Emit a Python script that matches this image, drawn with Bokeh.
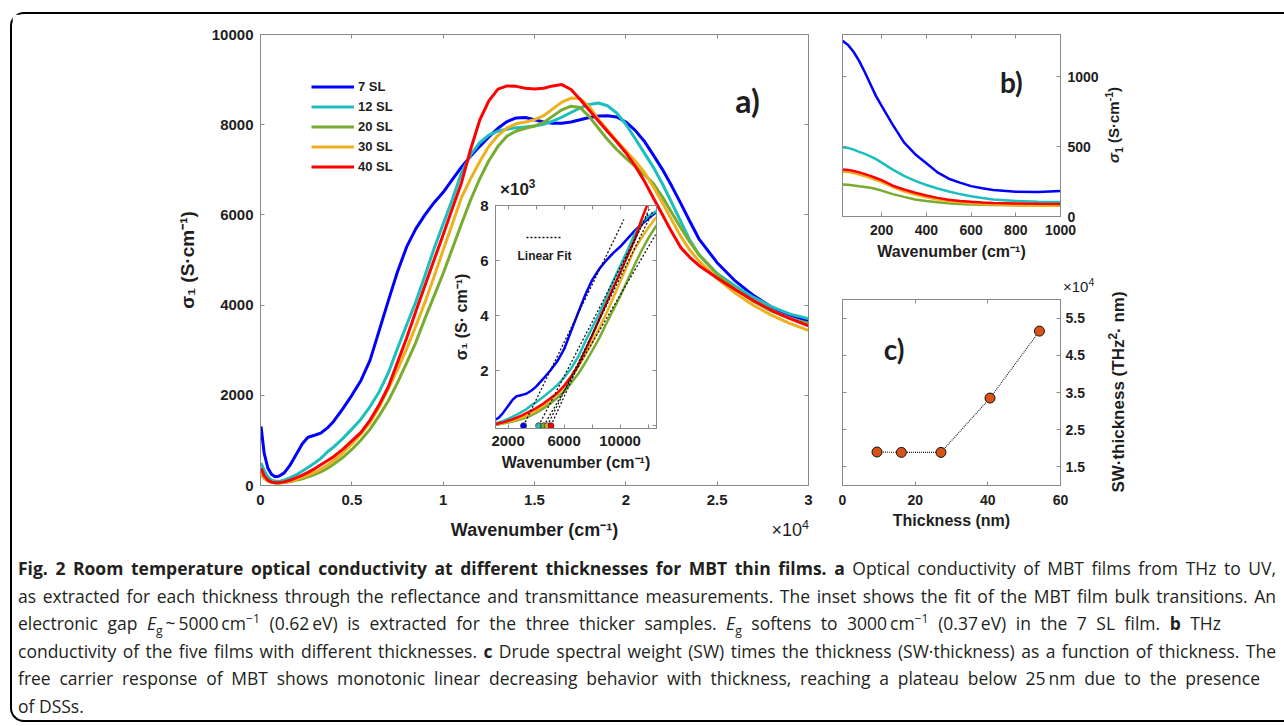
from bokeh.plotting import figure
from bokeh.models import (LinearAxis, FixedTicker, Legend, LegendItem, Label, Div,
                          GridBox, CustomJSTickFormatter, CustomLabelingPolicy, Range1d)
from bokeh.embed import file_html
from bokeh.resources import INLINE

# ---------------- data ----------------
series_names = ["7 SL", "12 SL", "20 SL", "30 SL", "40 SL"]
series_colors = ["#0000FF", "#1CBEBE", "#77AC30", "#EDB120", "#FF0000"]

# panel a: wavenumber (cm^-1) and sigma_1 (S/cm)
wavenumber = [30, 200, 400, 600, 800, 1000, 1300, 1600, 2000, 2300, 2600, 3000, 3300, 3700, 4000,
              4500, 5000, 5500, 6000, 6500, 7000, 7500, 8000, 8500, 9000, 9500, 10000, 10500, 11000,
              11500, 12000, 12500, 13000, 13500, 14000, 14500, 15000, 15500, 16000, 16500, 17000,
              17500, 18000, 18500, 19000, 19500, 20000, 20500, 21000, 21500, 22000, 22500, 23000,
              23500, 24000, 25000, 26000, 27000, 28000, 29000, 30000]
sigma_7sl = [1310, 720, 390, 250, 195, 205, 280, 440, 720, 930, 1070, 1120, 1160, 1290, 1420,
             1700, 2000, 2330, 2780, 3440, 4100, 4740, 5290, 5690, 6000, 6270, 6500, 6780, 7060,
             7300, 7520, 7730, 7920, 8070, 8150, 8160, 8110, 8060, 8030, 8030, 8060,
             8110, 8160, 8195, 8200, 8170, 8060, 7880, 7640, 7330, 7010, 6650, 6260,
             5860, 5470, 4940, 4530, 4210, 3950, 3780, 3640]
sigma_12sl = [500, 330, 190, 120, 95, 92, 120, 170, 250, 320, 400, 510, 600, 760, 850,
              1040, 1250, 1470, 1750, 2080, 2500, 3040, 3560, 4070, 4650, 5250, 5800, 6340, 6930,
              7330, 7600, 7770, 7860, 7900, 7930, 7950, 7970, 8010, 8080, 8170, 8270,
              8370, 8450, 8480, 8420, 8260, 8010, 7700, 7380, 7060, 6690, 6280, 5860,
              5440, 5120, 4700, 4420, 4170, 3960, 3800, 3700]
sigma_20sl = [250, 160, 100, 70, 58, 55, 65, 85, 120, 150, 190, 250, 300, 390, 470,
              620, 800, 1010, 1250, 1550, 1880, 2280, 2720, 3170, 3700, 4200, 4700, 5250, 5800,
              6330, 6800, 7200, 7520, 7750, 7860, 7920, 7970, 8050, 8190, 8330, 8410,
              8380, 8180, 7920, 7670, 7450, 7260, 7080, 6900, 6700, 6400, 6060, 5720,
              5400, 5120, 4680, 4350, 4080, 3860, 3700, 3600]
sigma_30sl = [300, 180, 110, 72, 60, 58, 70, 95, 140, 180, 230, 300, 360, 460, 550,
              720, 920, 1140, 1400, 1740, 2150, 2570, 3030, 3530, 4060, 4630, 5220, 5800, 6380,
              6800, 7180, 7520, 7760, 7930, 8020, 8060, 8110, 8200, 8350, 8500, 8590,
              8580, 8400, 8120, 7880, 7640, 7420, 7200, 6950, 6630, 6270, 5900, 5530,
              5220, 4980, 4590, 4260, 3990, 3770, 3590, 3440]
sigma_40sl = [380, 220, 120, 75, 60, 60, 80, 115, 180, 230, 290, 380, 460, 560, 640,
              800, 990, 1180, 1450, 1790, 2190, 2730, 3270, 3860, 4430, 5000, 5560, 6140, 6710,
              7450, 8100, 8530, 8790, 8860, 8850, 8810, 8790, 8810, 8860, 8890, 8780,
              8560, 8320, 8080, 7850, 7620, 7380, 7090, 6760, 6380, 6010, 5630, 5280,
              5060, 4880, 4600, 4340, 4100, 3880, 3700, 3540]
main_series = [sigma_7sl, sigma_12sl, sigma_20sl, sigma_30sl, sigma_40sl]

# inset: linear fits of the bulk transitions (onset = fitted gap, cm^-1)
fit_onset = [3100, 4180, 4540, 4800, 5060]
fit_end_wavenumber = [10270, 11990, 12530, 12300, 12100]
fit_end_sigma = [7490, 7700, 6940, 7750, 7900]

# panel b: THz conductivity
thz_wavenumber = [25, 50, 75, 100, 125, 150, 175, 200, 250, 300, 350, 400, 450, 500, 550,
                  600, 650, 700, 800, 900, 1000]
thz_7sl = [1255, 1225, 1175, 1110, 1030, 945, 860, 790, 655, 530, 445, 380, 315, 270, 242,
           217, 202, 190, 176, 175, 182]
thz_12sl = [495, 490, 478, 462, 447, 430, 410, 385, 335, 290, 255, 225, 200, 178, 160,
            145, 132, 122, 111, 106, 104]
thz_20sl = [228, 226, 222, 216, 211, 205, 196, 185, 160, 140, 122, 110, 101, 94, 89,
            86, 84, 82, 80, 79, 78]
thz_30sl = [320, 317, 310, 300, 288, 275, 260, 245, 210, 180, 157, 138, 122, 110, 101,
            95, 90, 86, 80, 77, 76]
thz_40sl = [336, 333, 325, 315, 303, 290, 275, 260, 220, 193, 170, 150, 133, 120, 111,
            105, 100, 97, 93, 91, 90]
thz_series = [thz_7sl, thz_12sl, thz_20sl, thz_30sl, thz_40sl]

# panel c: SW x thickness (units of 1e4 THz^2 nm)
thickness_nm = [9.5, 16.2, 27.1, 40.6, 54.2]
sw_thickness = [1.90, 1.89, 1.89, 3.35, 5.15]

# ---------------- styling helpers ----------------
FONT = "Liberation Sans"
FRAME = "#8a8a8a"
TXT = "#1e1e1e"
SUB = '<sub style="line-height:0; font-size:70%;">'
SUP = '<sup style="line-height:0; font-size:70%;">'


def style_axis(ax, ticks, size, formatter=None):
    ax.ticker = FixedTicker(ticks=ticks, minor_ticks=[])
    ax.major_tick_in = 4
    ax.major_tick_out = 0
    ax.minor_tick_line_color = None
    ax.major_tick_line_color = FRAME
    ax.axis_line_color = FRAME
    ax.major_label_text_font = FONT
    ax.major_label_text_font_style = "bold"
    ax.major_label_text_color = TXT
    ax.major_label_text_font_size = size
    ax.axis_label_text_font = FONT
    ax.axis_label_text_font_style = "bold"
    ax.axis_label_text_color = TXT
    if formatter is not None:
        ax.formatter = formatter


NO_LABELS = CustomLabelingPolicy(code="""
try { for (let i = 0; i < indices.size; i++) { indices.unset(i) } } catch (e) {}
return indices
""")


def tick_axis(ticks):
    # opposite-side axis: tick marks only
    ax = LinearAxis()
    style_axis(ax, ticks, "0px")
    ax.major_label_standoff = 0
    ax.major_label_policy = NO_LABELS
    return ax


def make_fig(w, h, xr, yr, borders, y_loc="left"):
    p = figure(width=w, height=h, x_range=xr, y_range=yr, output_backend="svg",
               toolbar_location=None, y_axis_location=y_loc,
               min_border_left=borders[0], min_border_right=borders[1],
               min_border_top=borders[2], min_border_bottom=borders[3])
    p.xgrid.visible = False
    p.ygrid.visible = False
    p.outline_line_color = FRAME
    p.outline_line_width = 1
    p.background_fill_color = "white"
    p.border_fill_color = "white"
    return p


def text_label(x, y, text, size, bold=True, font=FONT, **kw):
    return Label(x=x, y=y, text=text, text_font=font, text_font_size=size,
                 text_font_style="bold" if bold else "normal", text_color=TXT, **kw)


# ---------------- panel a ----------------
xa_ticks = [0, 0.5, 1, 1.5, 2, 2.5, 3]
ya_ticks = [0, 2000, 4000, 6000, 8000, 10000]
pa = make_fig(824, 534, Range1d(0, 3), Range1d(0, 10000), (248, 28, 20, 62))
x_main = [w / 1e4 for w in wavenumber]
main_renderers = []
for color, ys in zip(series_colors, main_series):
    main_renderers.append(pa.line(x_main, ys, line_color=color, line_width=3))

style_axis(pa.xaxis[0], xa_ticks, "15px", CustomJSTickFormatter(code="return tick.toString();"))
pa.xaxis[0].major_label_standoff = 9
pa.xaxis[0].axis_label = "Wavenumber (cm⁻¹)"
pa.xaxis[0].axis_label_text_font_size = "18px"
pa.xaxis[0].axis_label_standoff = 12
style_axis(pa.yaxis[0], ya_ticks, "15px")
pa.yaxis[0].major_label_standoff = 7
pa.yaxis[0].axis_label = "σ₁ (S·cm⁻¹)"
pa.yaxis[0].axis_label_text_font_size = "19px"
pa.yaxis[0].axis_label_standoff = 11
pa.add_layout(tick_axis(xa_ticks), "above")
pa.add_layout(tick_axis(ya_ticks), "right")

legend = Legend(items=[LegendItem(label=n, renderers=[r]) for n, r in zip(series_names, main_renderers)],
                location=(51, 310), border_line_color=None, background_fill_alpha=0,
                label_text_font=FONT, label_text_font_style="bold", label_text_font_size="13px",
                label_text_color=TXT, glyph_width=43, glyph_height=17, label_height=17,
                spacing=3, padding=5, margin=0, label_standoff=4)
pa.add_layout(legend)
pa.add_layout(text_label(2.666, 8540, "a)", "32px", font="Lato", text_align="center",
                         text_baseline="middle"))

# ---------------- inset ----------------
xi_ticks = [2000, 4000, 6000, 8000, 10000, 12000]
yi_ticks = [0, 2, 4, 6, 8]
pi = make_fig(240, 298, Range1d(1100, 12600), Range1d(-0.1, 8), (55, 24, 25, 47))
pi.border_fill_color = None
for color, ys in zip(series_colors, main_series):
    pi.line(wavenumber, [v / 1000 for v in ys], line_color=color, line_width=2.5)
fit_r = pi.segment(x0=fit_onset, y0=[0] * len(fit_onset), x1=fit_end_wavenumber,
                   y1=[v / 1000 for v in fit_end_sigma], line_color="#111111",
                   line_width=1.3, line_dash="2 2")
pi.scatter(fit_onset, [0] * len(fit_onset), size=6, fill_color=series_colors, line_color="#333333",
           line_width=0.8)
style_axis(pi.xaxis[0], xi_ticks, "15px",
           CustomJSTickFormatter(code="return (tick % 4000 == 0) ? '' : tick.toString();"))
pi.xaxis[0].major_label_standoff = 7
pi.xaxis[0].axis_label = "Wavenumber (cm⁻¹)"
pi.xaxis[0].axis_label_text_font_size = "16px"
pi.xaxis[0].axis_label_standoff = 5
style_axis(pi.yaxis[0], yi_ticks, "15px",
           CustomJSTickFormatter(code="return (tick == 0) ? '' : tick.toString();"))
pi.yaxis[0].major_label_standoff = 7
pi.yaxis[0].axis_label = "σ₁ (S· cm⁻¹)"
pi.yaxis[0].axis_label_text_font_size = "16px"
pi.yaxis[0].axis_label_standoff = 7
pi.add_layout(tick_axis(xi_ticks), "above")
pi.add_layout(tick_axis(yi_ticks), "right")
fit_legend = Legend(items=[LegendItem(label=" ", renderers=[fit_r])], location=(31, 187),
                    border_line_color=None, background_fill_alpha=0, glyph_width=36,
                    glyph_height=8, label_height=8, padding=0, margin=0, label_standoff=0,
                    label_text_font_size="1px")
pi.add_layout(fit_legend)
pi.add_layout(text_label(4600, 6.17, "Linear Fit", "12px", text_align="center",
                         text_baseline="middle"))

# ---------------- panel b ----------------
xb_ticks = [200, 400, 600, 800, 1000]
yb_ticks = [0, 500, 1000]
pb = make_fig(304, 266, Range1d(25, 1000), Range1d(0, 1300), (6, 80, 20, 64), y_loc="right")
for color, ys in zip(series_colors, thz_series):
    pb.line(thz_wavenumber, ys, line_color=color, line_width=2.5)
style_axis(pb.xaxis[0], xb_ticks, "14px")
pb.xaxis[0].major_label_standoff = 8
pb.xaxis[0].axis_label = "Wavenumber (cm⁻¹)"
pb.xaxis[0].axis_label_text_font_size = "16px"
pb.xaxis[0].axis_label_standoff = 5
style_axis(pb.yaxis[0], yb_ticks, "14px")
pb.yaxis[0].major_label_standoff = 7
pb.add_layout(tick_axis(xb_ticks), "above")
pb.add_layout(tick_axis(yb_ticks), "left")
pb.add_layout(text_label(780, 964, "b)", "28px", font="Lato", text_align="center",
                         text_baseline="middle"))

# ---------------- panel c ----------------
xc_ticks = [0, 20, 40, 60]
yc_ticks = [1.5, 2.5, 3.5, 4.5, 5.5]
pc = make_fig(304, 268, Range1d(0, 60), Range1d(1.0, 6.0), (6, 80, 19, 63), y_loc="right")
pc.line(thickness_nm, sw_thickness, line_color="#222222", line_width=1.1, line_dash="1 1")
pc.scatter(thickness_nm, sw_thickness, size=10, fill_color="#D95319", line_color="#111111",
           line_width=1)
style_axis(pc.xaxis[0], xc_ticks, "14px")
pc.xaxis[0].major_label_standoff = 9
pc.xaxis[0].axis_label = "Thickness (nm)"
pc.xaxis[0].axis_label_text_font_size = "16px"
pc.xaxis[0].axis_label_standoff = 4
style_axis(pc.yaxis[0], yc_ticks, "14px")
pc.yaxis[0].major_label_standoff = 5
pc.add_layout(tick_axis(xc_ticks), "above")
pc.add_layout(tick_axis(yc_ticks), "left")
pc.add_layout(text_label(14.2, 4.66, "c)", "28px", font="Lato", text_align="center",
                         text_baseline="middle"))

# ---------------- HTML overlays for texts outside the plot frames ----------------
rot = "position:absolute; white-space:nowrap; transform:translate(-50%,-50%) rotate(-90deg);"
overlay_right = Div(text=(
    f'<div style="position:relative; width:448px; height:534px; font-family:\'{FONT}\'; '
    f'font-weight:bold; color:{TXT};">'
    f'<div style="{rot} left:278px; top:111px; font-size:15px;">'
    f'<i>σ</i>{SUB}1</sub> (S·cm{SUP}-1</sup>)</div>'
    f'<div style="{rot} left:283px; top:378px; font-size:17px;">'
    f'SW·thickness (THz{SUP}2</sup>· nm)</div>'
    f'<div style="position:absolute; white-space:nowrap; left:227px; top:273px; '
    f'transform:translate(0,-50%); font-size:15px; font-weight:normal;">×10{SUP}4</sup></div>'
    '</div>'), width=448, height=534, margin=(0, 0, 0, 0))

overlay_main = Div(text=(
    f'<div style="position:relative; width:824px; height:534px; font-family:\'{FONT}\'; '
    f'color:{TXT};">'
    f'<div style="position:absolute; white-space:nowrap; left:797px; top:517px; '
    f'transform:translate(-100%,-50%); font-size:18px;">×10{SUP}4</sup></div>'
    f'<div style="position:absolute; white-space:nowrap; left:488px; top:176px; '
    f'transform:translate(0,-50%); font-size:17px; font-weight:bold;">×10{SUP}3</sup></div>'
    '</div>'), width=824, height=534, margin=(0, 0, 0, 0))

# ---------------- caption ----------------
caption_lines = [
    ('<b>Fig. 2 Room temperature optical conductivity at different thicknesses for MBT thin films.</b> '
     '<b>a</b> Optical conductivity of MBT films from THz to UV,', 1258),
    ('as extracted for each thickness through the reflectance and transmittance measurements. '
     'The inset shows the fit of the MBT film bulk transitions. An', 1258),
    ('electronic gap <i>E</i><sub>g</sub>&thinsp;~&thinsp;5000&thinsp;cm<sup>−1</sup> (0.62&thinsp;eV) '
     'is extracted for the three thicker samples. <i>E</i><sub>g</sub> softens to '
     '3000&thinsp;cm<sup>−1</sup> (0.37&thinsp;eV) in the 7 SL film. <b>b</b> THz', 1203),
    ('conductivity of the five films with different thicknesses. <b>c</b> Drude spectral weight (SW) '
     'times the thickness (SW·thickness) as a function of thickness. The', 1258),
    ('free carrier response of MBT shows monotonic linear decreasing behavior with thickness, '
     'reaching a plateau below 25&thinsp;nm due to the presence', 1242),
    ('of DSSs.', None),
]
html = ['<div style="font-family:\'Open Sans\'; font-size:17.5px; color:#231f20; '
        'padding:7px 0 0 6px;">']
for txt, w in caption_lines:
    if w:
        st = (f"width:{w}px; height:27.5px; line-height:27.5px; white-space:nowrap; "
              "text-align:justify; text-align-last:justify;")
    else:
        st = "height:27.5px; line-height:27.5px; white-space:nowrap;"
    txt = txt.replace("<sub>", SUB).replace("<sup>", SUP)
    html.append(f'<div style="{st}">{txt}</div>')
html.append("</div>")
caption = Div(text="".join(html), width=1272, height=174, margin=(0, 0, 0, 0))

border = Div(text="", width=1274, height=710, margin=(0, 0, 0, 0),
             styles={"border": "2px solid black", "border-right": "none",
                     "border-radius": "14px 0 0 14px", "box-sizing": "border-box"})

row_heights = [12, 2, 166, 100, 195, 73, 174]
col_widths = [10, 2, 428, 240, 156, 448]
grid = GridBox(children=[(border, 1, 1, 6, 5), (pa, 2, 2, 4, 3), (pi, 3, 3, 2, 1),
                         (overlay_main, 2, 2, 4, 3),
                         (pb, 2, 5, 2, 1), (pc, 4, 5, 2, 1), (overlay_right, 2, 5, 4, 1),
                         (caption, 6, 2, 1, 4)],
               rows=[f"{h}px" for h in row_heights], cols=[f"{w}px" for w in col_widths],
               spacing=0)

open("out.html", "w").write(file_html(grid, INLINE))
